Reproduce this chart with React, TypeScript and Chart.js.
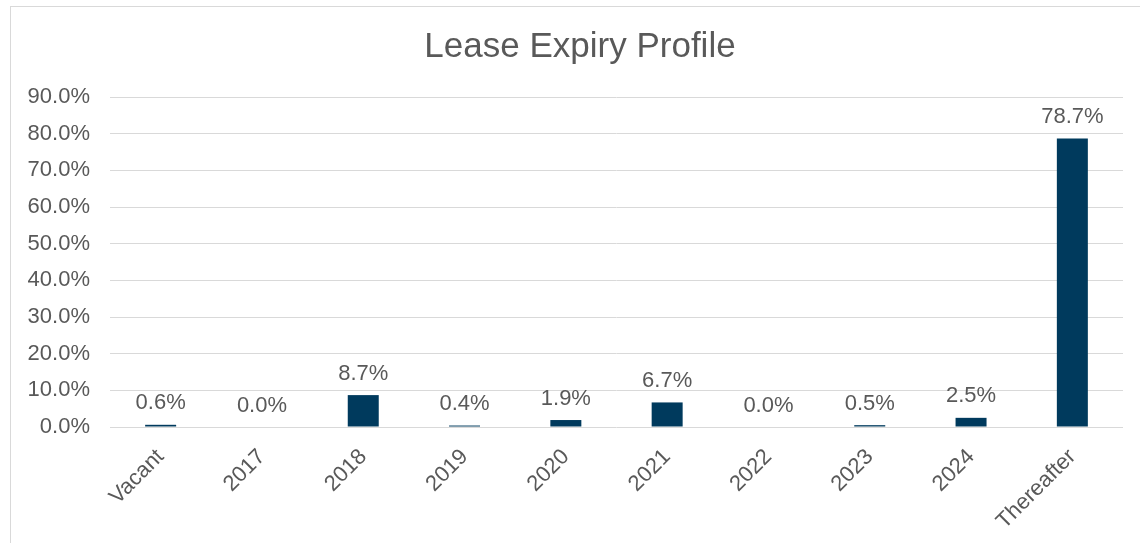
import React, { useEffect, useRef } from "react";
import { Chart, registerables } from "chart.js";

Chart.register(...registerables);

const categories = ["Vacant", "2017", "2018", "2019", "2020", "2021", "2022", "2023", "2024", "Thereafter"];
const expiryPct = [0.6, 0.0, 8.7, 0.4, 1.9, 6.7, 0.0, 0.5, 2.5, 78.7];
const yTicks = [0, 10, 20, 30, 40, 50, 60, 70, 80, 90];
const chartTitle = "Lease Expiry Profile";

const FONT = "'Liberation Sans', Arial, sans-serif";
const TEXT = "#595959";
const BAR = "#003A5D";
const GRID = "#D9D9D9";
const FS = 22;

const labelPlugin = {
  id: "barLabels",
  afterDatasetsDraw(chart: any) {
    const ctx = chart.ctx;
    const meta = chart.getDatasetMeta(0);
    ctx.save();
    ctx.font = `${FS}px ${FONT}`;
    ctx.fillStyle = TEXT;
    ctx.textAlign = "center";
    ctx.textBaseline = "alphabetic";
    meta.data.forEach((bar: any, i: number) => {
      ctx.fillText(expiryPct[i].toFixed(1) + "%", bar.x, bar.y - 15.5);
    });
    ctx.font = `35px ${FONT}`;
    ctx.textBaseline = "middle";
    ctx.fillText(chartTitle, 580, 47.5);
    ctx.restore();
  },
};

export default function App() {
  const ref = useRef<HTMLCanvasElement>(null);
  useEffect(() => {
    if (!ref.current) return;
    const chart = new Chart(ref.current, {
      type: "bar",
      data: {
        labels: categories,
        datasets: [
          {
            data: expiryPct,
            backgroundColor: BAR,
            barPercentage: 0.306,
            categoryPercentage: 1,
          },
        ],
      },
      options: {
        animation: false,
        responsive: false,
        maintainAspectRatio: false,
        layout: { padding: { left: 0, right: 17, top: 97, bottom: 0 } },
        plugins: {
          legend: { display: false },
          tooltip: { enabled: false },
          title: { display: false },
        },
        scales: {
          x: {
            grid: { display: false },
            border: { display: false },
            ticks: {
              color: TEXT,
              font: { family: FONT, size: FS },
              maxRotation: 45,
              minRotation: 45,
              padding: 9,
              autoSkip: false,
            },
            afterFit: (s: any) => {
              s.height = 116;
            },
          },
          y: {
            min: 0,
            max: 90,
            afterBuildTicks: (s: any) => {
              s.ticks = yTicks.map((v) => ({ value: v }));
            },
            grid: { color: GRID, lineWidth: 1, drawTicks: false },
            border: { display: false },
            ticks: {
              color: TEXT,
              font: { family: FONT, size: FS },
              padding: 20,
              callback: (v: any) => Number(v).toFixed(1) + "%",
            },
            afterFit: (s: any) => {
              s.width = 110;
            },
          },
        },
      },
      plugins: [labelPlugin],
    });
    return () => chart.destroy();
  }, []);

  return (
    <div>
      <div
        style={{
          position: "fixed",
          left: 10,
          top: 6,
          width: 1150,
          height: 600,
          border: "1px solid #D9D9D9",
          boxSizing: "border-box",
        }}
      />
      <canvas
        ref={ref}
        width={1140}
        height={543}
        style={{ position: "fixed", left: 0, top: 0, width: 1140, height: 543 }}
      />
    </div>
  );
}
